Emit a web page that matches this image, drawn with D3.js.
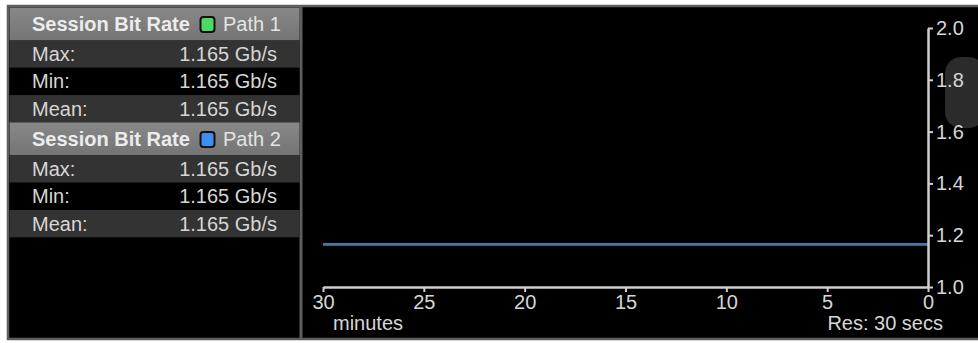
<!DOCTYPE html>
<html>
<head>
<meta charset="utf-8">
<script src="https://cdn.jsdelivr.net/npm/d3@7"></script>
<style>
html,body{margin:0;padding:0;background:#fff;}
svg{display:block;font-family:"Liberation Sans",Arial,sans-serif;}
</style>
</head>
<body>
<svg id="c" width="978" height="343"></svg>
<script>
// ---- data ----
const pathNames = ["Path 1", "Path 2"];
const statLabels = ["Max:", "Min:", "Mean:"];
const path1Stats = [1.165, 1.165, 1.165];
const path2Stats = [1.165, 1.165, 1.165];
const statUnit = "Gb/s";
const minutesAgo = [30, 25, 20, 15, 10, 5, 0];
const path1Values = [1.165, 1.165, 1.165, 1.165, 1.165, 1.165, 1.165];
const path2Values = [1.165, 1.165, 1.165, 1.165, 1.165, 1.165, 1.165];
const xTicks = [30, 25, 20, 15, 10, 5, 0];
const yTicks = [1.0, 1.2, 1.4, 1.6, 1.8, 2.0];
const xUnitLabel = "minutes";
const resLabel = "Res: 30 secs";
const headerTitle = "Session Bit Rate";

// ---- styles ----
const pathColors = ["#4cd964", "#3d8ef0"];
const lineColors = ["#4caf50", "#3b78b5"];
const axisColor = "#cfcfcf";
const textColor = "#d6d6d6";

const svg = d3.select("#c");

// frame
svg.append("rect").attr("x", 8).attr("y", 6).attr("width", 972).attr("height", 333)
  .attr("fill", "#000").attr("stroke", "#5e5e5e").attr("stroke-width", 2.5);
svg.append("line").attr("x1", 301).attr("x2", 301).attr("y1", 6).attr("y2", 339)
  .attr("stroke", "#5e5e5e").attr("stroke-width", 3);

// ---- table ----
const rowTops = [];
const rowH = 27.3, headH = 33;
let yCur = 7.5;
const blocks = [path1Stats, path2Stats];
const tbl = svg.append("g");
blocks.forEach((stats, bi) => {
  // header
  const hg = tbl.append("g");
  const hGrad = "hgrad" + bi;
  const grad = svg.append("defs").append("linearGradient").attr("id", hGrad)
    .attr("x1", 0).attr("x2", 0).attr("y1", 0).attr("y2", 1);
  grad.append("stop").attr("offset", "0%").attr("stop-color", "#888");
  grad.append("stop").attr("offset", "100%").attr("stop-color", "#747474");
  hg.append("rect").attr("x", 9.5).attr("y", yCur).attr("width", 290).attr("height", headH)
    .attr("fill", `url(#${hGrad})`);
  hg.append("text").attr("x", 32).attr("y", yCur + headH / 2 + 7)
    .attr("font-size", 20).attr("font-weight", "bold").attr("fill", "#ececec")
    .text(headerTitle);
  hg.append("rect").attr("x", 200.5).attr("y", yCur + 9.5).attr("width", 14).attr("height", 15)
    .attr("rx", 3).attr("fill", pathColors[bi]).attr("stroke", "#111").attr("stroke-width", 2);
  hg.append("text").attr("x", 223).attr("y", yCur + headH / 2 + 7)
    .attr("font-size", 20).attr("fill", "#e4e4e4").text(pathNames[bi]);
  yCur += headH;
  stats.forEach((v, i) => {
    const g = tbl.append("g");
    g.append("rect").attr("x", 9.5).attr("y", yCur).attr("width", 290).attr("height", rowH)
      .attr("fill", i === 1 ? "#000" : "#333");
    g.append("text").attr("x", 32).attr("y", yCur + rowH / 2 + 7)
      .attr("font-size", 20).attr("fill", textColor).text(statLabels[i]);
    g.append("text").attr("x", 277).attr("y", yCur + rowH / 2 + 7)
      .attr("text-anchor", "end").attr("font-size", 20).attr("fill", textColor)
      .text(d3.format(".3f")(v) + " " + statUnit);
    yCur += rowH;
  });
});

// ---- chart ----
const x = d3.scaleLinear().domain([30, 0]).range([323, 928]);
const y = d3.scaleLinear().domain([1.0, 2.0]).range([287, 28]);

// scroll thumb
svg.append("rect").attr("x", 945).attr("y", 57).attr("width", 40).attr("height", 71)
  .attr("rx", 16).attr("fill", "#2b2b2b");

const line = d3.line().x(d => x(d[0])).y(d => y(d[1]));
[path1Values, path2Values].forEach((vals, i) => {
  svg.append("path").datum(minutesAgo.map((m, j) => [m, vals[j]]))
    .attr("d", line).attr("fill", "none").attr("stroke", lineColors[i]).attr("stroke-width", 2.5);
});

const xAxis = svg.append("g").attr("transform", `translate(0,${y(1.0)})`)
  .call(d3.axisBottom(x).tickValues(xTicks).tickSize(5).tickSizeOuter(0).tickPadding(3).tickFormat(d3.format("d")));
const yAxis = svg.append("g").attr("transform", `translate(${x(0)},0)`)
  .call(d3.axisRight(y).tickValues(yTicks).tickSize(5).tickSizeOuter(0).tickPadding(3).tickFormat(d3.format(".1f")));

[xAxis, yAxis].forEach(a => {
  a.select(".domain").attr("stroke", axisColor).attr("stroke-width", 2.5);
  a.selectAll(".tick line").attr("stroke", axisColor).attr("stroke-width", 2);
  a.selectAll(".tick text").attr("fill", textColor).attr("font-size", 20)
    .attr("font-family", "'Liberation Sans',Arial,sans-serif");
});

svg.append("text").attr("x", 333).attr("y", 330).attr("font-size", 20).attr("fill", textColor).text(xUnitLabel);
svg.append("text").attr("x", 943).attr("y", 330).attr("text-anchor", "end").attr("font-size", 20).attr("fill", textColor).text(resLabel);
</script>
</body>
</html>
